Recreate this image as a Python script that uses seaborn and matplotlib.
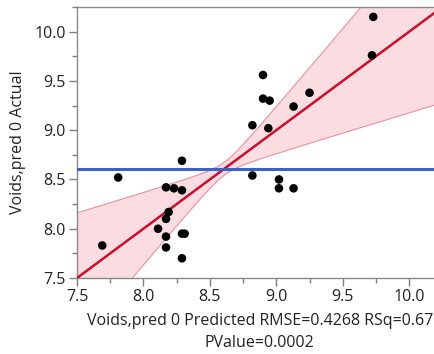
import numpy as np
import pandas as pd
import matplotlib
matplotlib.use("Agg")
import matplotlib.pyplot as plt
import seaborn as sns
from matplotlib.ticker import MultipleLocator

# valores (Predicted, Actual)
predicted = [7.69, 7.81, 8.17, 8.23, 8.29, 8.29, 8.19, 8.17, 8.11, 8.17,
             8.17, 8.29, 8.31, 8.29, 8.82, 9.02, 9.02, 9.13, 9.73, 9.72,
             8.90, 8.90, 8.95, 9.25, 9.13, 8.82, 8.94]
actual = [7.83, 8.52, 8.42, 8.41, 8.39, 8.69, 8.17, 8.10, 8.00, 7.92,
          7.81, 7.95, 7.95, 7.70, 8.54, 8.50, 8.41, 8.41, 10.15, 9.76,
          9.56, 9.32, 9.30, 9.38, 9.24, 9.05, 9.02]

x_label = "Voids,pred 0 Predicted RMSE=0.4268 RSq=0.67\nPValue=0.0002"
y_label = "Voids,pred 0 Actual"

# parametros de las curvas de confianza (estimados del grafico)
band_center = 0.065
band_ratio = 0.35

df = pd.DataFrame({"pred": predicted, "act": actual})
ybar = df["act"].mean()

sns.set_style("white")
plt.rcParams["font.family"] = ["Open Sans", "DejaVu Sans"]

fig = plt.figure(figsize=(4.35, 3.54), dpi=100)
ax = fig.add_axes([0.177, 0.2147, 0.84, 0.7655])

xlim = (7.5, 10.25)
ylim = (7.5, 10.25)
xs = np.linspace(xlim[0], xlim[1], 300)
half = np.sqrt(band_center ** 2 + band_ratio * (xs - ybar) ** 2)

ax.fill_between(xs, xs - half, xs + half, color="#fbdde1", lw=0, zorder=1)
ax.plot(xs, xs + half, color="#e8909c", lw=0.8, zorder=2)
ax.plot(xs, xs - half, color="#e8909c", lw=0.8, zorder=2)

line_df = pd.DataFrame({"x": xs, "y": xs})
sns.lineplot(data=line_df, x="x", y="y", color="#c8102e", lw=1.8, ax=ax, zorder=3)
ax.axhline(ybar, color="#3a62c8", lw=2.2, zorder=3)

sns.scatterplot(data=df, x="pred", y="act", color="black", s=38,
                edgecolor="none", ax=ax, zorder=4)

ax.set_xlim(xlim)
ax.set_ylim(ylim)
ax.xaxis.set_major_locator(MultipleLocator(0.5))
ax.xaxis.set_minor_locator(MultipleLocator(0.25))
ax.yaxis.set_major_locator(MultipleLocator(0.5))
ax.yaxis.set_minor_locator(MultipleLocator(0.25))
ax.xaxis.set_major_formatter(matplotlib.ticker.FormatStrFormatter("%.1f"))
ax.yaxis.set_major_formatter(matplotlib.ticker.FormatStrFormatter("%.1f"))
ax.tick_params(which="major", length=6, width=1, color="#7f7f7f",
               labelsize=11.5, labelcolor="#222222", direction="out",
               bottom=True, left=True, pad=2)
ax.tick_params(which="minor", length=3.5, width=1, color="#7f7f7f",
               direction="out", bottom=True, left=True)

for side in ["left", "bottom", "top"]:
    ax.spines[side].set_color("#8a8a8a")
    ax.spines[side].set_linewidth(1)
ax.spines["right"].set_visible(False)

ax.set_xlabel(x_label, fontsize=11.5, color="#222222", labelpad=6, linespacing=1.45)
ax.set_ylabel(y_label, fontsize=11.5, color="#222222", labelpad=6)

fig.savefig("out.png", dpi=100)
